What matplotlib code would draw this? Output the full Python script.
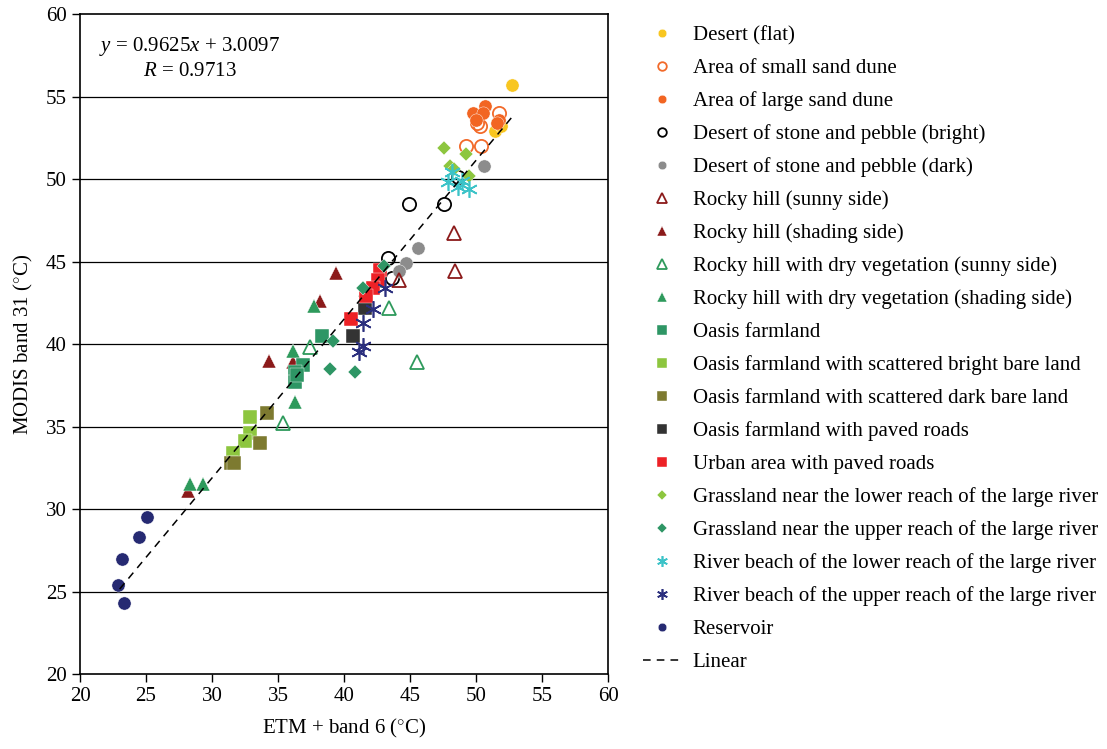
import numpy as np
import matplotlib
matplotlib.use("Agg")
import matplotlib.pyplot as plt

plt.rcParams['font.family'] = ['Liberation Serif', 'DejaVu Serif']
plt.rcParams['mathtext.fontset'] = 'custom'
plt.rcParams['mathtext.rm'] = 'Liberation Serif'
plt.rcParams['mathtext.it'] = 'Liberation Serif:italic'

# (ETM+ band 6, MODIS band 31) pairs
desert_flat_x = [52.7, 51.6, 51.4, 51.9]
desert_flat_y = [55.7, 53.4, 52.9, 53.2]
small_dune_x = [51.7, 50.3, 49.2, 50.4, 50.1]
small_dune_y = [54.0, 53.2, 52.0, 52.0, 53.4]
large_dune_x = [49.8, 50.7, 50.5, 50.0, 51.7, 51.6]
large_dune_y = [54.0, 54.4, 54.0, 53.6, 53.6, 53.4]
stone_bright_x = [44.9, 47.6, 43.3, 43.6, 48.6]
stone_bright_y = [48.5, 48.5, 45.2, 44.0, 50.1]
stone_dark_x = [50.6, 45.6, 44.7, 44.2]
stone_dark_y = [50.8, 45.8, 44.9, 44.4]
rocky_sunny_x = [48.3, 48.4, 44.2]
rocky_sunny_y = [46.7, 44.4, 43.9]
rocky_shade_x = [39.4, 38.2, 34.3, 36.1, 28.2]
rocky_shade_y = [44.3, 42.6, 39.0, 38.9, 31.1]
veg_sunny_x = [43.4, 37.4, 45.5, 35.4, 42.4]
veg_sunny_y = [42.2, 39.8, 38.9, 35.2, 43.9]
veg_shade_x = [37.7, 36.1, 36.3, 28.3, 29.3, 41.6]
veg_shade_y = [42.3, 39.6, 36.5, 31.5, 31.5, 43.3]
oasis_x = [38.3, 36.9, 36.3, 36.3, 36.4]
oasis_y = [40.5, 38.7, 38.3, 37.7, 38.1]
oasis_bright_x = [32.9, 32.9, 32.5, 31.6]
oasis_bright_y = [35.6, 34.6, 34.1, 33.4]
oasis_dark_x = [34.2, 33.6, 31.4, 31.7]
oasis_dark_y = [35.8, 34.0, 32.8, 32.8]
oasis_road_x = [41.6, 40.7]
oasis_road_y = [42.2, 40.5]
urban_x = [42.7, 42.6, 42.2, 41.7, 40.5]
urban_y = [44.5, 43.9, 43.4, 42.9, 41.5]
grass_low_x = [47.6, 49.2, 48.0, 49.5, 48.3]
grass_low_y = [51.9, 51.5, 50.8, 50.2, 50.6]
grass_up_x = [43.0, 41.4, 39.2, 38.9, 40.8]
grass_up_y = [44.7, 43.4, 40.2, 38.5, 38.3]
beach_low_x = [48.2, 47.9, 48.6, 49.5, 48.9]
beach_low_y = [50.4, 49.8, 49.5, 49.4, 49.9]
beach_up_x = [43.1, 42.2, 41.4, 41.4, 41.1]
beach_up_y = [43.4, 42.1, 41.3, 39.9, 39.5]
reservoir_x = [25.1, 24.5, 23.2, 22.9, 23.3]
reservoir_y = [29.5, 28.3, 27.0, 25.4, 24.3]

slope, intercept = 0.9625, 3.0097
fit_x = [23.0, 52.7]

series = [
    (desert_flat_x, desert_flat_y, 'Desert (flat)', 'o', '#F8C620', True),
    (small_dune_x, small_dune_y, 'Area of small sand dune', 'o', '#F26A2A', False),
    (large_dune_x, large_dune_y, 'Area of large sand dune', 'o', '#F26522', True),
    (stone_bright_x, stone_bright_y, 'Desert of stone and pebble (bright)', 'o', '#000000', False),
    (stone_dark_x, stone_dark_y, 'Desert of stone and pebble (dark)', 'o', '#8C8C8C', True),
    (rocky_sunny_x, rocky_sunny_y, 'Rocky hill (sunny side)', '^', '#8B1A1A', False),
    (rocky_shade_x, rocky_shade_y, 'Rocky hill (shading side)', '^', '#8B1A1A', True),
    (veg_sunny_x, veg_sunny_y, 'Rocky hill with dry vegetation (sunny side)', '^', '#2E9A5C', False),
    (veg_shade_x, veg_shade_y, 'Rocky hill with dry vegetation (shading side)', '^', '#2E9A5C', True),
    (oasis_x, oasis_y, 'Oasis farmland', 's', '#2E9665', True),
    (oasis_bright_x, oasis_bright_y, 'Oasis farmland with scattered bright bare land', 's', '#8DC63F', True),
    (oasis_dark_x, oasis_dark_y, 'Oasis farmland with scattered dark bare land', 's', '#7D7A30', True),
    (oasis_road_x, oasis_road_y, 'Oasis farmland with paved roads', 's', '#333333', True),
    (urban_x, urban_y, 'Urban area with paved roads', 's', '#ED2126', True),
    (grass_low_x, grass_low_y, 'Grassland near the lower reach of the large river', 'D', '#8DC63F', True),
    (grass_up_x, grass_up_y, 'Grassland near the upper reach of the large river', 'D', '#2E9665', True),
    (beach_low_x, beach_low_y, 'River beach of the lower reach of the large river', (6, 2, 0), '#3CC3C8', True),
    (beach_up_x, beach_up_y, 'River beach of the upper reach of the large river', (6, 2, 0), '#2B2F7E', True),
    (reservoir_x, reservoir_y, 'Reservoir', 'o', '#262A72', True),
]

fig = plt.figure(figsize=(11.07, 7.49), dpi=100)
ax = fig.add_axes([0.0723, 0.1001, 0.4770, 0.8812])

sizes = {'o': 9.5, '^': 10, 's': 10, 'D': 7.5}
for xs, ys, name, mk, col, filled in series:
    ms = sizes.get(mk, 11) if isinstance(mk, str) else 12
    if isinstance(mk, tuple):
        ax.plot(xs, ys, ls='none', marker=mk, ms=ms, color=col, mew=1.2, label=name)
    elif filled:
        ax.plot(xs, ys, ls='none', marker=mk, ms=ms, color=col, mec='white', mew=0.3, label=name)
    else:
        ax.plot(xs, ys, ls='none', marker=mk, ms=ms, mfc='none', mec=col, mew=1.3, label=name)

fx = np.array(fit_x)
ax.plot(fx, slope * fx + intercept, ls=(0, (5, 4)), color='black', lw=1.1, label='Linear')

ax.set_xlim(20, 60)
ax.set_ylim(20, 60)
ax.set_xticks(range(20, 61, 5))
ax.set_yticks(range(20, 61, 5))
for v in range(25, 60, 5):
    ax.axhline(v, color='black', lw=0.9, zorder=0)
ax.tick_params(direction='out', length=6, width=1, labelsize=15)
for s in ax.spines.values():
    s.set_linewidth(1.2)
ax.set_xlabel('ETM + band 6 ($^{\\circ}$C)', fontsize=15, labelpad=8)
ax.set_ylabel('MODIS band 31 ($^{\\circ}$C)', fontsize=15, labelpad=8)

ax.text(28.3, 58.75, '$y$ = 0.9625$x$ + 3.0097\n$R$ = 0.9713', ha='center', va='top',
        fontsize=15, multialignment='center', linespacing=1.32)

leg = ax.legend(loc='upper left', bbox_to_anchor=(0.581, 0.966), bbox_transform=fig.transFigure,
                frameon=False, fontsize=15, markerscale=0.65, handlelength=1.8,
                handletextpad=0.58, labelspacing=0.635, borderaxespad=0, borderpad=0)

fig.savefig('out.png', dpi=100)
